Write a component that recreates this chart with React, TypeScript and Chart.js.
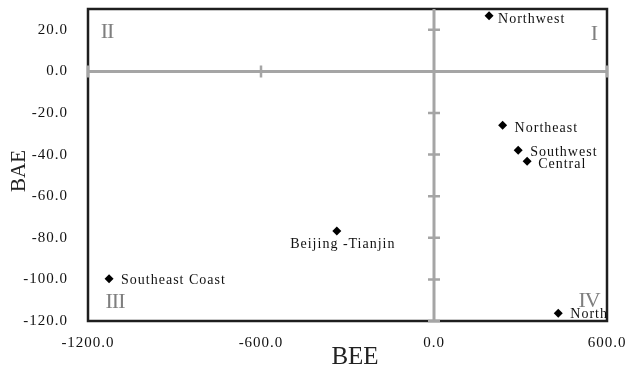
import React, { useEffect, useRef } from 'react';
import { Chart, registerables } from 'chart.js';

Chart.register(...registerables);

// ---- data ----
const regionNames = ['Northwest', 'Northeast', 'Southwest', 'Central', 'Beijing -Tianjin', 'Southeast Coast', 'North'];
const beeValues = [191, 238, 292, 323, -337, -1127, 431];
const baeValues = [26.8, -25.9, -37.9, -43.2, -76.7, -99.7, -116.3];
const xTickValues = [-1200, -600, 0, 600];
const yTickValues = [-120, -100, -80, -60, -40, -20, 0, 20];
const quadrantNames = ['I', 'II', 'III', 'IV'];
const xTitle = 'BEE';
const yTitle = 'BAE';

// ---- style / layout ----
const SERIF = '"Liberation Serif", "Times New Roman", serif';
const labelOffsets: [number, number, string][] = [
  [9, 4, 'left'],
  [12, 3, 'left'],
  [12, 2, 'left'],
  [11, 3, 'left'],
  [6, 13, 'center'],
  [12, 2, 'left'],
  [12, 1, 'left'],
];
const quadrantPos: [number, number][] = [
  [594, 34],
  [107, 32],
  [115, 302],
  [589, 301],
];

const overlayPlugin = {
  id: 'overlay',
  beforeDraw(chart: any) {
    (chart.ctx as any).letterSpacing = '1px';
  },
  beforeDatasetsDraw(chart: any) {
    const { ctx, chartArea: a, scales } = chart;
    const xs = scales.x;
    const ys = scales.y;
    ctx.save();
    // frame
    ctx.strokeStyle = '#1e1e1e';
    ctx.lineWidth = 2.5;
    ctx.strokeRect(a.left, a.top, a.right - a.left, a.bottom - a.top);
    // gray cross axes
    const x0 = xs.getPixelForValue(0);
    const y0 = ys.getPixelForValue(0);
    ctx.strokeStyle = '#a5a5a5';
    ctx.lineWidth = 3;
    ctx.beginPath();
    ctx.moveTo(x0, a.top);
    ctx.lineTo(x0, a.bottom + 1);
    ctx.moveTo(a.left, y0);
    ctx.lineTo(a.right, y0);
    ctx.stroke();
    ctx.lineWidth = 2.5;
    ctx.beginPath();
    yTickValues.forEach((v) => {
      if (v === 0) return;
      const py = ys.getPixelForValue(v);
      ctx.moveTo(x0 - 6, py);
      ctx.lineTo(x0 + 6, py);
    });
    xTickValues.forEach((v) => {
      if (v === 0) return;
      const px = xs.getPixelForValue(v);
      ctx.moveTo(px, y0 - 6);
      ctx.lineTo(px, y0 + 6);
    });
    ctx.stroke();
    // quadrant labels
    ctx.fillStyle = '#7f7f7f';
    ctx.font = `22px ${SERIF}`;
    (ctx as any).letterSpacing = '-1px';
    ctx.textAlign = 'center';
    ctx.textBaseline = 'middle';
    quadrantNames.forEach((q, i) => {
      ctx.fillText(q, quadrantPos[i][0], quadrantPos[i][1]);
    });
    ctx.restore();
  },
  afterDatasetsDraw(chart: any) {
    const { ctx, scales } = chart;
    ctx.save();
    (ctx as any).letterSpacing = '1px';
    ctx.fillStyle = '#111';
    ctx.font = `14px ${SERIF}`;
    ctx.textBaseline = 'middle';
    regionNames.forEach((name, i) => {
      const px = scales.x.getPixelForValue(beeValues[i]);
      const py = scales.y.getPixelForValue(baeValues[i]);
      const [dx, dy, align] = labelOffsets[i];
      ctx.textAlign = align;
      ctx.fillText(name, px + dx, py + dy);
    });
    // axis titles
    ctx.fillStyle = '#222';
    (ctx as any).letterSpacing = '0px';
    ctx.font = `25px ${SERIF}`;
    ctx.textAlign = 'center';
    ctx.textBaseline = 'alphabetic';
    ctx.fillText(xTitle, 355, 364);
    ctx.translate(25, 171);
    ctx.rotate(-Math.PI / 2);
    ctx.font = `21px ${SERIF}`;
    ctx.fillText(yTitle, 0, 0);
    ctx.restore();
  },
};

export default function App() {
  const ref = useRef<HTMLCanvasElement>(null);
  useEffect(() => {
    document.body.style.margin = '0';
    const chart = new Chart(ref.current!, {
      type: 'scatter',
      data: {
        datasets: [
          {
            data: beeValues.map((x, i) => ({ x, y: baeValues[i] })),
            pointStyle: 'rectRot',
            pointRadius: 4.5,
            backgroundColor: '#000',
            borderColor: '#000',
            borderWidth: 0,
          },
        ],
      },
      options: {
        animation: false,
        responsive: false,
        layout: { padding: { top: 9, right: 22, left: 0, bottom: 0 } },
        plugins: { legend: { display: false }, tooltip: { enabled: false } },
        scales: {
          x: {
            type: 'linear',
            min: -1200,
            max: 600,
            afterBuildTicks: (s: any) => {
              s.ticks = xTickValues.map((v) => ({ value: v }));
            },
            afterFit: (s: any) => {
              s.height = 50;
              s.paddingLeft = 0;
              s.paddingRight = 0;
            },
            grid: { display: false },
            border: { display: false },
            ticks: {
              font: { family: SERIF, size: 15 },
              color: '#111',
              padding: 5,
              maxRotation: 0,
              autoSkip: false,
              callback: (v: any) => Number(v).toFixed(1),
            },
          },
          y: {
            type: 'linear',
            min: -120,
            max: 30,
            afterBuildTicks: (s: any) => {
              s.ticks = yTickValues.map((v) => ({ value: v }));
            },
            afterFit: (s: any) => {
              s.width = 88;
              s.paddingTop = 0;
              s.paddingBottom = 0;
            },
            grid: { display: false },
            border: { display: false },
            ticks: {
              font: { family: SERIF, size: 15 },
              color: '#111',
              padding: 12,
              autoSkip: false,
              callback: (v: any) => Number(v).toFixed(1),
            },
          },
        },
      } as any,
      plugins: [overlayPlugin],
    });
    return () => chart.destroy();
  }, []);
  return (
    <div style={{ width: 629, height: 371 }}>
      <canvas ref={ref} width={629} height={371} style={{ display: 'block' }} />
    </div>
  );
}
